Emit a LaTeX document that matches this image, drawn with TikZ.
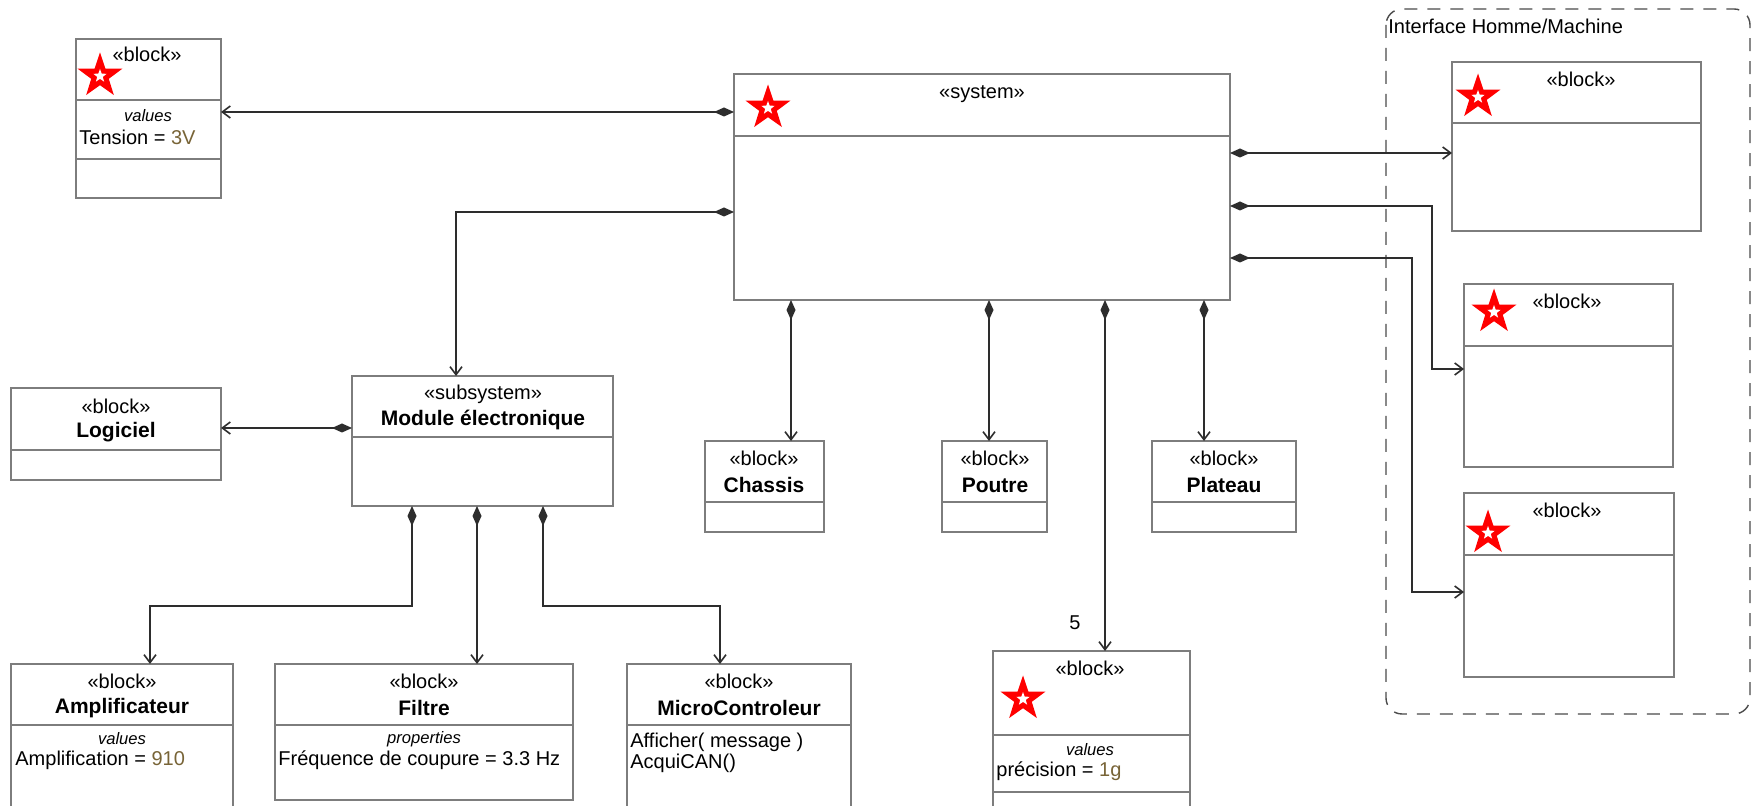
\documentclass[tikz,border=0pt]{standalone}
\usepackage{fontspec}
\setmainfont{Liberation Sans}
\usetikzlibrary{fit,arrows.meta,shapes.geometric}
\definecolor{boxgray}{RGB}{125,125,125}
\definecolor{wiregray}{RGB}{45,45,45}
\definecolor{valbrown}{RGB}{120,100,55}
\providecommand{\stereosize}{\fontsize{10}{12}\selectfont}
\providecommand{\namesize}{\fontsize{10.5}{12.5}\selectfont\bfseries}
\providecommand{\compsize}{\fontsize{8.3}{10}\selectfont\itshape}

\begin{document}
\begin{tikzpicture}[x=0.5pt,y=-0.5pt,
    blk/.style={draw=boxgray,line width=0.75pt,inner sep=0pt,outer sep=0pt,fill=white},
    div/.style={draw=boxgray,line width=0.75pt},
    comp/.style={draw=wiregray,line width=0.8pt,arrows={Diamond[length=10pt,width=4.5pt]-Straight Barb[length=4pt,width=6pt]}},
    lbl/.style={inner sep=0pt,font=\stereosize},
    attr/.style={inner sep=0pt,anchor=west,font=\stereosize},
    redstar/.style={star,star points=5,star point ratio=2.55,fill=red,minimum size=23.5pt,inner sep=0pt},
    whitestar/.style={star,star points=5,star point ratio=2.4,fill=white,minimum size=7pt,inner sep=0pt}]
    \clip (0,0) rectangle (1758,806);
    \fill[white] (0,0) rectangle (1758,806);

    % Interface Homme/Machine frame
    \draw[boxgray!60!black,line width=0.7pt,dash pattern=on 6.5pt off 5pt,rounded corners=8pt] (1386,9) rectangle (1750,714);
    \node[lbl,anchor=west] (ihm) at (1388,26) {Interface Homme/Machine};

    % blocks
    \node[blk,fit={(734,74) (1230,300)}] (sys) {};
    \node[blk,fit={(76,39) (221,198)}] (tens) {};
    \node[blk,fit={(1452,62) (1701,231)}] (hmi1) {};
    \node[blk,fit={(1464,284) (1673,467)}] (hmi2) {};
    \node[blk,fit={(1464,493) (1674,677)}] (hmi3) {};
    \node[blk,fit={(11,388) (221,480)}] (logi) {};
    \node[blk,fit={(352,376) (613,506)}] (mod) {};
    \node[blk,fit={(705,441) (824,532)}] (chas) {};
    \node[blk,fit={(942,441) (1047,532)}] (pout) {};
    \node[blk,fit={(1152,441) (1296,532)}] (plat) {};
    \node[blk,fit={(993,651) (1190,820)}] (prec) {};
    \node[blk,fit={(11,664) (233,820)}] (ampl) {};
    \node[blk,fit={(275,664) (573,800)}] (filt) {};
    \node[blk,fit={(627,664) (851,820)}] (micro) {};

    % compartments
    \draw[div] (sys.west |- 0,136) -- (sys.east |- 0,136);
    \draw[div] (tens.west |- 0,100) -- (tens.east |- 0,100);
    \draw[div] (tens.west |- 0,159) -- (tens.east |- 0,159);
    \draw[div] (hmi1.west |- 0,123) -- (hmi1.east |- 0,123);
    \draw[div] (hmi2.west |- 0,346) -- (hmi2.east |- 0,346);
    \draw[div] (hmi3.west |- 0,555) -- (hmi3.east |- 0,555);
    \draw[div] (logi.west |- 0,450) -- (logi.east |- 0,450);
    \draw[div] (mod.west |- 0,437) -- (mod.east |- 0,437);
    \foreach \b in {chas,pout,plat}
        \draw[div] (\b.west |- 0,502) -- (\b.east |- 0,502);
    \draw[div] (prec.west |- 0,735) -- (prec.east |- 0,735);
    \draw[div] (prec.west |- 0,792) -- (prec.east |- 0,792);
    \foreach \b in {ampl,filt,micro}
        \draw[div] (\b.west |- 0,725) -- (\b.east |- 0,725);

    % texts
    \node[lbl] (sysS) at (982,94) {«system»};
    \node[lbl] (tensS) at (147,54) {«block»};
    \node[lbl,font=\compsize] (tensC) at (148,116) {values};
    \node[attr] (tensA) at (79,137) {Tension = {\color{valbrown}3V}};
    \node[lbl] (hmi1S) at (1581,79) {«block»};
    \node[lbl] (hmi2S) at (1567,301) {«block»};
    \node[lbl] (hmi3S) at (1567,510) {«block»};
    \node[lbl] (logiS) at (116,406) {«block»};
    \node[lbl,font=\namesize] (logiN) at (116,432) {Logiciel};
    \node[lbl] (modS) at (483,394) {«subsystem»};
    \node[lbl,font=\namesize] (modN) at (483,420) {Module électronique};
    \node[lbl] (chasS) at (764,458) {«block»};
    \node[lbl,font=\namesize] (chasN) at (764,485) {Chassis};
    \node[lbl] (poutS) at (995,458) {«block»};
    \node[lbl,font=\namesize] (poutN) at (995,485) {Poutre};
    \node[lbl] (platS) at (1224,458) {«block»};
    \node[lbl,font=\namesize] (platN) at (1224,485) {Plateau};
    \node[lbl] (precS) at (1090,668) {«block»};
    \node[lbl,font=\compsize] (precC) at (1090,750) {values};
    \node[attr] (precA) at (996,771) {précision = {\color{valbrown}1g}};
    \node[lbl] (amplS) at (122,681) {«block»};
    \node[lbl,font=\namesize] (amplN) at (122,708) {Amplificateur};
    \node[lbl,font=\compsize] (amplC) at (122,739) {values};
    \node[attr] (amplA) at (15,760) {Amplification = {\color{valbrown}910}};
    \node[lbl] (filtS) at (424,681) {«block»};
    \node[lbl,font=\namesize] (filtN) at (424,708) {Filtre};
    \node[lbl,font=\compsize] (filtC) at (424,739) {properties};
    \node[attr] (filtA) at (278,760) {Fréquence de coupure = 3.3 Hz};
    \node[lbl] (microS) at (739,681) {«block»};
    \node[lbl,font=\namesize] (microN) at (739,708) {MicroControleur};
    \node[attr] (microA) at (630,742) {Afficher( message )};
    \node[attr] (microB) at (630,763) {AcquiCAN()};
    \node[lbl] (mult) at (1075,623) {5};

    % stars
    \foreach \s/\p in {st1/{100,76},st2/{768,108},st3/{1478,97},st4/{1494,312},st5/{1488,533},st6/{1023,699}} {
        \node[redstar] (\s) at (\p) {};
        \node[whitestar] (\s w) at (\s) {};
    }

    % composition links
    \draw[comp] (sys.west |- 0,112) -- (tens.east |- 0,112);
    \draw[comp] (sys.west |- 0,212) -| (mod.north -| 456,0);
    \draw[comp] (mod.west |- 0,428) -- (logi.east |- 0,428);
    \draw[comp] (sys.south -| 791,0) -- (chas.north -| 791,0);
    \draw[comp] (sys.south -| 989,0) -- (pout.north -| 989,0);
    \draw[comp] (sys.south -| 1105,0) -- (prec.north -| 1105,0);
    \draw[comp] (sys.south -| 1204,0) -- (plat.north -| 1204,0);
    \draw[comp] (sys.east |- 0,153) -- (hmi1.west |- 0,153);
    \draw[comp] (sys.east |- 0,206) -| (1432,369) -- (hmi2.west |- 0,369);
    \draw[comp] (sys.east |- 0,258) -| (1412,592) -- (hmi3.west |- 0,592);
    \draw[comp] (mod.south -| 412,0) |- (150,606) -- (ampl.north -| 150,0);
    \draw[comp] (mod.south -| 477,0) -- (filt.north -| 477,0);
    \draw[comp] (mod.south -| 543,0) |- (720,606) -- (micro.north -| 720,0);
\end{tikzpicture}
\end{document}
